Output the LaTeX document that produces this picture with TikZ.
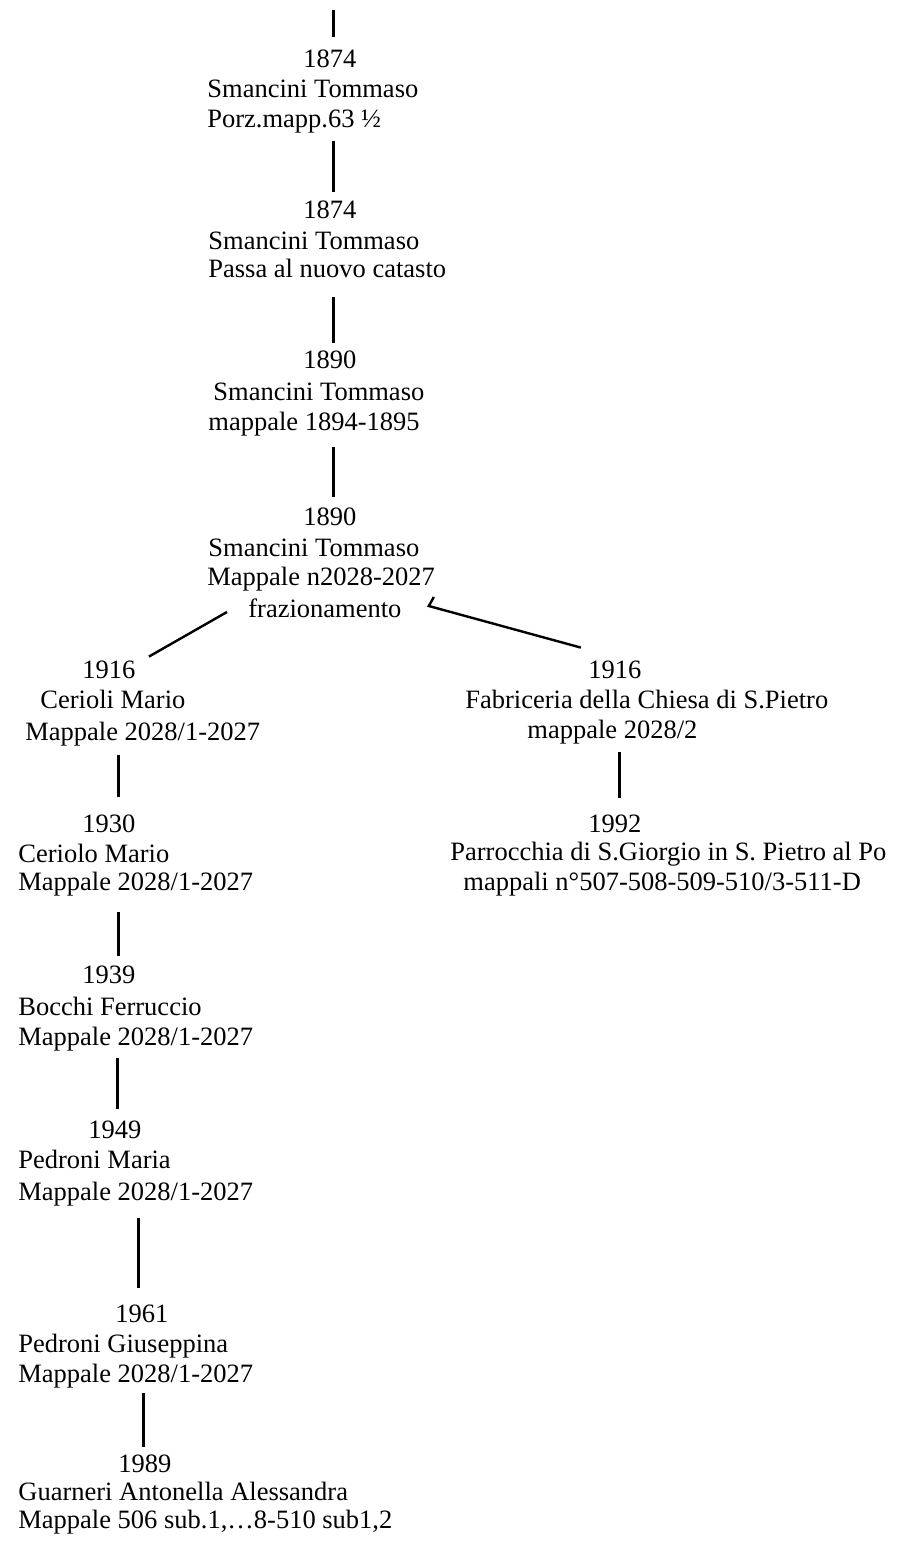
\documentclass[tikz,border=0pt]{standalone}
\usepackage{fontspec}
\setmainfont{Liberation Serif}
\usetikzlibrary{calc}

\begin{document}
\begin{tikzpicture}[x=0.5pt, y=-0.5pt,
    every node/.style={inner sep=0pt, anchor=base west, font=\fontsize{13.25pt}{15pt}\selectfont,
                       text height=9pt, text depth=3pt},
    link/.style={line width=1.5pt}]
    \useasboundingbox (0,0) rectangle (900,1547);

    % main chain
    \coordinate (top) at (333,10);
    \node (t1y) at (303,67) {1874};
    \node (t1a) at (207,97) {Smancini Tommaso};
    \node (t1b) at (207,127) {Porz.mapp.63 ½};

    \node (t2y) at (303,218) {1874};
    \node (t2a) at (208,249) {Smancini Tommaso};
    \node (t2b) at (208,277) {Passa al nuovo catasto};

    \node (t3y) at (303,368) {1890};
    \node (t3a) at (213,400) {Smancini Tommaso};
    \node (t3b) at (208,430) {mappale 1894-1895};

    \node (t4y) at (303,525) {1890};
    \node (t4a) at (208,556) {Smancini Tommaso};
    \node (t4b) at (207,585) {Mappale n2028-2027};
    \node (split) at (248,617) {frazionamento};

    % left branch
    \node (l1y) at (82,678) {1916};
    \node (l1a) at (40,708) {Cerioli Mario};
    \node (l1b) at (25,740) {Mappale 2028/1-2027};

    \node (l2y) at (82,832) {1930};
    \node (l2a) at (18,862) {Ceriolo Mario};
    \node (l2b) at (18,890) {Mappale 2028/1-2027};

    \node (l3y) at (82,983) {1939};
    \node (l3a) at (18,1015) {Bocchi Ferruccio};
    \node (l3b) at (18,1045) {Mappale 2028/1-2027};

    \node (l4y) at (88,1138) {1949};
    \node (l4a) at (18,1168) {Pedroni Maria};
    \node (l4b) at (18,1200) {Mappale 2028/1-2027};

    \node (l5y) at (115,1322) {1961};
    \node (l5a) at (18,1352) {Pedroni Giuseppina};
    \node (l5b) at (18,1382) {Mappale 2028/1-2027};

    \node (l6y) at (118,1472) {1989};
    \node (l6a) at (18,1500) {Guarneri Antonella Alessandra};
    \node (l6b) at (18,1528) {Mappale 506 sub.1,…8-510 sub1,2};

    % right branch
    \node (r1y) at (588,678) {1916};
    \node (r1a) at (465,708) {Fabriceria della Chiesa di S.Pietro};
    \node (r1b) at (527,738) {mappale 2028/2};

    \node (r2y) at (588,832) {1992};
    \node (r2a) at (450,860) {Parrocchia di S.Giorgio in S. Pietro al Po};
    \node (r2b) at (463,890) {mappali n°507-508-509-510/3-511-D};

    % vertical links
    \draw[link, shorten >=6pt] let \p1=([xshift=1.75pt]t1y.north), \p2=(top) in (\x1,\y2) -- (\x1,\y1);
    \draw[link, shorten <=4pt, shorten >=4pt] let \p1=([xshift=1.75pt]t2y.north), \p2=(t1b.south) in (\x1,\y2) -- (\x1,\y1);
    \draw[link, shorten <=7pt, shorten >=3.5pt] let \p1=([xshift=1.75pt]t3y.north), \p2=(t2b.south) in (\x1,\y2) -- (\x1,\y1);
    \draw[link, shorten <=5.5pt, shorten >=5pt] let \p1=([xshift=1.75pt]t4y.north), \p2=(t3b.south) in (\x1,\y2) -- (\x1,\y1);

    \draw[link, shorten <=4.5pt, shorten >=8.5pt] let \p1=([xshift=5pt]l2y.north), \p2=(l1b.south) in (\x1,\y2) -- (\x1,\y1);
    \draw[link, shorten <=8pt, shorten >=4.5pt] let \p1=([xshift=5pt]l3y.north), \p2=(l2b.south) in (\x1,\y2) -- (\x1,\y1);
    \draw[link, shorten <=3.5pt, shorten >=5.5pt] let \p1=([xshift=1.5pt]l4y.north), \p2=(l3b.south) in (\x1,\y2) -- (\x1,\y1);
    \draw[link, shorten <=6pt, shorten >=8pt] let \p1=([xshift=-1.5pt]l5y.north), \p2=(l4b.south) in (\x1,\y2) -- (\x1,\y1);
    \draw[link, shorten <=2.5pt, shorten >=3.5pt] let \p1=([xshift=-0.5pt]l6y.north), \p2=(l5b.south) in (\x1,\y2) -- (\x1,\y1);

    \draw[link, shorten <=4pt, shorten >=8pt] let \p1=([xshift=2.5pt]r2y.north), \p2=(r1b.south) in (\x1,\y2) -- (\x1,\y1);

    % split
    \draw[link, line width=1.2pt] ([shift={(-10.5pt,-0.5pt)}]split.west) -- ([shift={(20pt,1.5pt)}]l1y.north);
    \draw[link, line width=1.2pt] ([shift={(16pt,7pt)}]split.east) -- ([shift={(13.5pt,2.5pt)}]split.east)
        -- ([shift={(-17pt,6pt)}]r1y.north);
\end{tikzpicture}
\end{document}
